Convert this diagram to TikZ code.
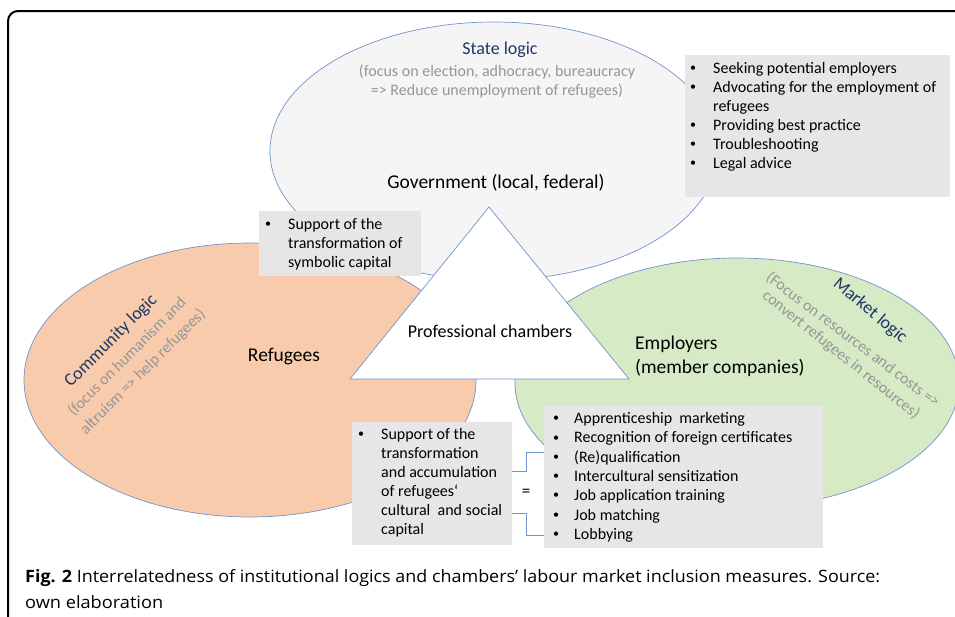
\documentclass[tikz,border=0pt]{standalone}
\usepackage{fontspec}
\usepackage{graphicx}
\setmainfont{Carlito}
\newfontfamily\capfont{Open Sans}
\usetikzlibrary{calc}
\definecolor{edgeblue}{RGB}{114,147,203}
\definecolor{topfill}{RGB}{245,245,245}
\definecolor{peach}{RGB}{248,203,173}
\definecolor{lgreen}{RGB}{214,234,198}
\definecolor{boxgray}{RGB}{231,230,230}
\definecolor{darkblue}{RGB}{31,56,100}
\definecolor{logicgray}{RGB}{150,150,150}
\newcommand{\bodyfont}{\fontsize{16}{19}\selectfont}
\newcommand{\bigfont}{\fontsize{19.5}{24}\selectfont}
\newcommand{\titlefont}{\fontsize{18}{19}\selectfont}
\newcommand{\bul}{\raisebox{0.12em}{\scalebox{0.75}{\textbullet}}}
\tikzset{
  ell/.style={draw=edgeblue, line width=0.7pt},
  gbox/.style={fill=boxgray, draw=none, anchor=north west, inner sep=0pt},
  listtext/.style={anchor=north west, inner sep=0pt, font=\bodyfont},
  logictitle/.style={text=darkblue, font=\titlefont, inner sep=0pt},
  logicdesc/.style={text=logicgray, font=\bodyfont, inner sep=0pt},
  bigtext/.style={font=\bigfont, inner sep=0pt},
  conn/.style={draw=edgeblue, line width=0.9pt},
  captext/.style={anchor=base west, inner sep=0pt, font=\capfont\fontsize{17}{20}\selectfont},
}
\begin{document}
\begin{tikzpicture}[x=1pt, y=-1pt]
\useasboundingbox (0,0) rectangle (955,616);
\fill[white] (0,0) rectangle (955,616);
% frame
\draw[line width=2pt, rounded corners=10pt] (958,11) -- (8,11) -- (8,619);
% ellipses
\coordinate (ctop) at (494,151);
\coordinate (cleft) at (250,380);
\coordinate (cright) at (737,383);
\draw[ell, fill=topfill] (ctop) ellipse [x radius=224, y radius=129];
\draw[ell, fill=peach] (cleft) ellipse [x radius=226, y radius=137];
\draw[ell, fill=lgreen] (cright) ellipse [x radius=222, y radius=125];
% triangle
\coordinate (tA) at (489,207);
\coordinate (tB) at (350,379);
\coordinate (tC) at (629,379);
\draw[ell, fill=white] (tA) -- (tB) -- (tC) -- cycle;
\node[font=\fontsize{18}{22}\selectfont, inner sep=0pt] (cham) at (490,331) {Professional chambers};
% state logic
\node[logictitle] (st) at (500,50) {State logic};
\node[logicdesc, align=center] (std) at (497,81.5) {(focus on election, adhocracy, bureaucracy\\=> Reduce unemployment of refugees)};
\node[bigtext] (gov) at (496,183) {Government (local, federal)};
% community logic
\node[logictitle, rotate=45] (cl) at (111,341) {Community logic};
\node[logicdesc, rotate=45] (cl1) at (127,357) {(focus on humanism and};
\node[logicdesc, rotate=45] (cl2) at (143,372) {altruism => help refugees)};
\node[bigtext] (ref) at (284,356) {Refugees};
% market logic
\node[logictitle, rotate=-40] (ml) at (870,311) {Market logic};
\node[logicdesc, rotate=-37] (ml1) at (853,340) {(Focus on resources and costs =>};
\node[logicdesc, rotate=-38.5] (ml2) at (841,355) {convert refugees in resources)};
\node[bigtext, anchor=west, align=left] (emp) at (635,356) {Employers\\(member companies)};
% government box
\node[gbox, minimum width=265pt, minimum height=142pt] (govbox) at (685,55) {};
\node[listtext] (govlist) at ($(govbox.north west)+(5,5)$) {%
\begin{tabular}{@{}p{23pt}@{}l@{}}
\bul & Seeking potential employers\\
\bul & Advocating for the employment of\\
 & refugees\\
\bul & Providing best practice\\
\bul & Troubleshooting\\
\bul & Legal advice
\end{tabular}};
% symbolic box
\node[gbox, minimum width=162pt, minimum height=65pt] (symbox) at (259,211) {};
\node[listtext] (symlist) at ($(symbox.north west)+(6,5)$) {%
\begin{tabular}{@{}p{23pt}@{}l@{}}
\bul & Support of the\\
 & transformation of\\
 & symbolic capital
\end{tabular}};
% left bottom box
\node[gbox, minimum width=160pt, minimum height=123pt] (lbox) at (352,422) {};
\node[listtext] (llist) at ($(lbox.north west)+(6,4)$) {%
\begin{tabular}{@{}p{23pt}@{}l@{}}
\bul & Support of the\\
 & transformation\\
 & and accumulation\\
 & of refugees‘\\
 & cultural\ \ and social\\
 & capital
\end{tabular}};
% right bottom box
\node[gbox, minimum width=279pt, minimum height=142pt] (rbox) at (544,406) {};
\node[listtext] (rlist) at ($(rbox.north west)+(9,4)$) {%
\renewcommand{\arraystretch}{1.015}%
\begin{tabular}{@{}p{21pt}@{}l@{}}
\bul & Apprenticeship\ \ marketing\\
\bul & Recognition of foreign certificates\\
\bul & (Re)qualification\\
\bul & Intercultural sensitization\\
\bul & Job application training\\
\bul & Job matching\\
\bul & Lobbying
\end{tabular}};
\node[font=\fontsize{17}{19}\selectfont, inner sep=0pt] (eq) at (526,493) {=};
% bracket connectors
\draw[conn] (lbox.east |- 0,471) -- (526,471) |- (rbox.west |- 0,452);
\draw[conn] (lbox.east |- 0,513) -- (526,513) |- (rbox.west |- 0,535);
% caption
\node[captext] (cap1) at (25,582) {\resizebox{855pt}{\height}{\textbf{Fig. 2} Interrelatedness of institutional logics and chambers’ labour market inclusion measures. Source:}};
\node[captext] (cap2) at (25,608) {\resizebox{138pt}{\height}{own elaboration}};
\end{tikzpicture}
\end{document}
